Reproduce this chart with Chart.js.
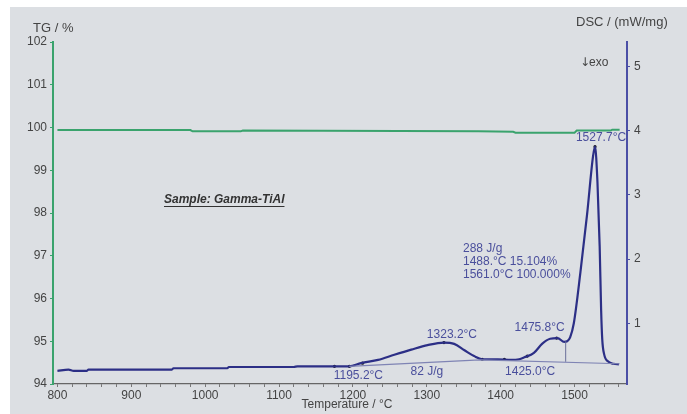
<!DOCTYPE html>
<html>
<head>
<meta charset="utf-8">
<script src="https://cdn.jsdelivr.net/npm/chart.js@4.4.1/dist/chart.umd.min.js"></script>
<style>
  html, body { margin: 0; padding: 0; background: #fff; }
  canvas { display: block; }
</style>
</head>
<body>
<canvas id="chart" width="687" height="414"></canvas>
<script>
// DSC signal (mW/mg) against temperature (°C)
const dscTemp = [800, 815, 822, 840, 842, 955, 957, 1030, 1032, 1120, 1125, 1195, 1211, 1234, 1256, 1279, 1301, 1323, 1337, 1351, 1364, 1375, 1396, 1414, 1425, 1432, 1445, 1456, 1467, 1477, 1486, 1490, 1494, 1499, 1508, 1517, 1525, 1527.7, 1531, 1534, 1536, 1537.5, 1540, 1546, 1553, 1560];
const dscValue = [0.26, 0.28, 0.26, 0.26, 0.28, 0.28, 0.30, 0.30, 0.32, 0.32, 0.33, 0.33, 0.38, 0.43, 0.51, 0.59, 0.66, 0.70, 0.68, 0.58, 0.49, 0.44, 0.44, 0.43, 0.44, 0.47, 0.54, 0.68, 0.76, 0.77, 0.71, 0.72, 0.78, 1.00, 1.80, 2.70, 3.60, 3.75, 3.20, 2.20, 1.20, 0.75, 0.52, 0.40, 0.37, 0.36];

// TG mass (%) against temperature (°C)
const tgTemp = [800, 980, 983, 1048, 1051, 1370, 1417, 1420, 1500, 1503, 1549, 1551, 1561];
const tgValue = [99.94, 99.94, 99.91, 99.91, 99.93, 99.91, 99.90, 99.88, 99.88, 99.93, 99.93, 99.95, 99.95];

// integration baseline and peak split line
const baseTemp = [1195, 1372, 1561];
const baseValue = [0.33, 0.43, 0.37];
const splitTemp = [1488, 1488];
const splitValue = [0.40, 0.72];

// evaluation marks on the DSC curve
const markTemp = [1175, 1195.2, 1213, 1323.2, 1375, 1405, 1436, 1475.8, 1527.7];
const markValue = [0.33, 0.33, 0.38, 0.70, 0.44, 0.44, 0.49, 0.77, 3.75];

const tempTicks = [800, 900, 1000, 1100, 1200, 1300, 1400, 1500];
const tgTicks = [94, 95, 96, 97, 98, 99, 100, 101, 102];
const dscTicks = [1, 2, 3, 4, 5];

const pts = (xs, ys) => xs.map((x, i) => ({ x: x, y: ys[i] }));

const FONT = '"Liberation Sans", Arial, sans-serif';
const GREEN = '#3aa36d';
const NAVY = '#2c2f86';
const LABEL_BLUE = '#4a4f9c';

const minorTicks = [];
for (let t = 800; t <= 1560; t += 20) minorTicks.push(t);

const backdrop = {
    id: 'backdrop',
    beforeDraw(chart) {
        const ctx = chart.ctx;
        ctx.save();
        ctx.fillStyle = '#dcdfe3';
        ctx.fillRect(10, 7, chart.width - 10, chart.height - 7);
        ctx.restore();
    }
};

const notes = {
    id: 'notes',
    afterDraw(chart) {
        const ctx = chart.ctx;
        const x = chart.scales.x;
        const y1 = chart.scales.y1;
        const px = v => x.getPixelForValue(v);
        const py = v => y1.getPixelForValue(v);
        ctx.save();
        ctx.textBaseline = 'middle';

        // axis titles
        ctx.fillStyle = '#444';
        ctx.font = '13px ' + FONT;
        ctx.textAlign = 'left';
        ctx.fillText('TG / %', 33, 28);
        ctx.fillText('DSC / (mW/mg)', 576, 22);
        ctx.font = '12px "DejaVu Sans", sans-serif';
        ctx.fillText('\u2193', 580, 63);
        ctx.font = '12px ' + FONT;
        ctx.fillText('exo', 589, 63);
        ctx.textAlign = 'center';
        ctx.fillText('Temperature / \u00b0C', 347, 405);

        // sample name
        ctx.fillStyle = '#333';
        ctx.font = 'italic bold 12px ' + FONT;
        ctx.textAlign = 'left';
        ctx.fillText('Sample: Gamma-TiAl', 164, 200);
        const w = ctx.measureText('Sample: Gamma-TiAl').width;
        ctx.fillRect(164, 206, w, 1);

        // peak evaluations
        ctx.fillStyle = LABEL_BLUE;
        ctx.font = '12px ' + FONT;
        ctx.textAlign = 'center';
        ctx.fillText('1527.7\u00b0C', px(1527.7) + 6, py(3.75) - 9);
        ctx.fillText('1323.2\u00b0C', px(1323.2) + 8, py(0.70) - 8);
        ctx.fillText('1475.8\u00b0C', px(1475.8) - 17, py(0.77) - 10);
        ctx.fillText('1195.2\u00b0C', px(1195.2) + 9, 376);
        ctx.fillText('82 J/g', px(1300), 372);
        ctx.fillText('1425.0\u00b0C', px(1425) + 11, 372);
        ctx.textAlign = 'left';
        ctx.fillText('288 J/g', 463, 249);
        ctx.fillText('1488.\u00b0C 15.104%', 463, 262);
        ctx.fillText('1561.0\u00b0C 100.000%', 463, 275);
        ctx.restore();
    }
};

new Chart(document.getElementById('chart'), {
    type: 'line',
    data: {
        datasets: [
            {
                label: 'TG',
                data: pts(tgTemp, tgValue),
                yAxisID: 'y',
                borderColor: GREEN,
                borderWidth: 2,
                pointRadius: 0
            },
            {
                label: 'baseline',
                data: pts(baseTemp, baseValue),
                yAxisID: 'y1',
                borderColor: '#7f84b4',
                borderWidth: 1.2,
                pointRadius: 0
            },
            {
                label: 'split',
                data: pts(splitTemp, splitValue),
                yAxisID: 'y1',
                borderColor: '#6a6f9a',
                borderWidth: 1,
                pointRadius: 0
            },
            {
                label: 'DSC',
                data: pts(dscTemp, dscValue),
                yAxisID: 'y1',
                borderColor: NAVY,
                borderWidth: 2.2,
                pointRadius: 0,
                cubicInterpolationMode: 'monotone'
            },
            {
                label: 'marks',
                data: pts(markTemp, markValue),
                yAxisID: 'y1',
                showLine: false,
                pointRadius: 1.6,
                pointBackgroundColor: '#111',
                pointBorderWidth: 0
            }
        ]
    },
    options: {
        responsive: false,
        animation: false,
        devicePixelRatio: 1,
        layout: { padding: { top: 42, left: 0, right: 0, bottom: 0 } },
        plugins: {
            legend: { display: false },
            tooltip: { enabled: false }
        },
        scales: {
            x: {
                type: 'linear',
                min: 794,
                max: 1571,
                afterBuildTicks: s => { s.ticks = minorTicks.map(v => ({ value: v })); },
                afterFit: s => { s.height = 30; },
                ticks: {
                    autoSkip: false,
                    maxRotation: 0,
                    color: '#444',
                    font: { family: FONT, size: 12 },
                    padding: 1,
                    callback: v => tempTicks.includes(v) ? String(v) : ''
                },
                grid: { drawOnChartArea: false, tickLength: 3, color: '#777' },
                border: { color: '#666', width: 1.2 }
            },
            y: {
                position: 'left',
                min: 94,
                max: 102,
                afterBuildTicks: s => { s.ticks = tgTicks.map(v => ({ value: v })); },
                afterFit: s => { s.width = 53; },
                ticks: { color: '#444', font: { family: FONT, size: 12 }, padding: 3 },
                grid: { drawOnChartArea: false, tickLength: 3, color: GREEN },
                border: { color: GREEN, width: 2 }
            },
            y1: {
                position: 'right',
                min: 0.055,
                max: 5.38,
                afterBuildTicks: s => { s.ticks = dscTicks.map(v => ({ value: v })); },
                afterFit: s => { s.width = 60; },
                ticks: { color: '#444', font: { family: FONT, size: 12 }, padding: 4 },
                grid: { drawOnChartArea: false, tickLength: 3, color: '#4b4fa6' },
                border: { color: '#4b4fa6', width: 2 }
            }
        }
    },
    plugins: [backdrop, notes]
});
</script>
</body>
</html>
